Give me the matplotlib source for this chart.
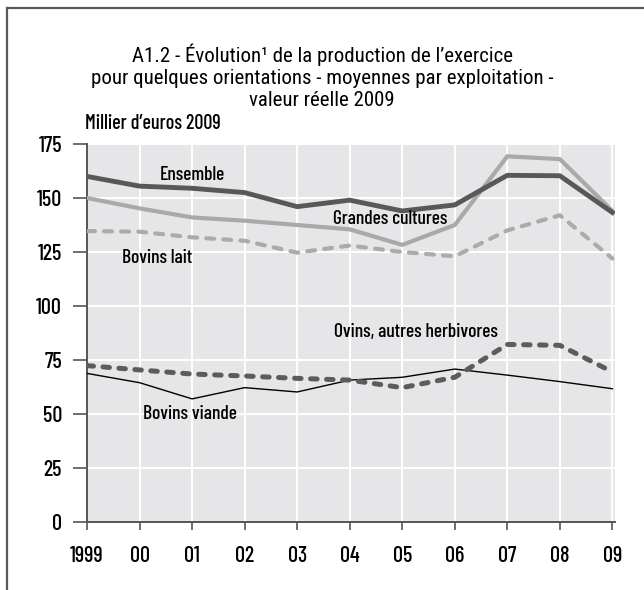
import matplotlib
matplotlib.use("Agg")
import matplotlib.pyplot as plt
from matplotlib.lines import Line2D

years = [1999, 2000, 2001, 2002, 2003, 2004, 2005, 2006, 2007, 2008, 2009]
year_labels = ['1999', '00', '01', '02', '03', '04', '05', '06', '07', '08', '09']

ensemble = [160, 155.5, 154.5, 152.5, 146, 149, 144, 146.8, 160.5, 160.3, 143.3]
grandes_cultures = [150, 145.2, 141, 139.5, 137.5, 135.5, 128.3, 137.5, 169.3, 168, 144]
bovins_lait = [134.7, 134.4, 131.8, 130.2, 124.7, 128, 125, 123, 135, 142, 122]
ovins = [72.4, 70.4, 68.5, 67.6, 66.5, 65.7, 62.2, 67, 82.2, 81.8, 69.5]
bovins_viande = [68.8, 64.5, 57, 62.2, 60.2, 65.7, 67, 70.8, 68, 65, 61.7]

y_ticks = [0, 25, 50, 75, 100, 125, 150, 175]

title_lines = ['A1.2 - Évolution¹ de la production de l’exercice',
               'pour quelques orientations - moyennes par exploitation -',
               'valeur réelle 2009']

narrow = ['Barlow Condensed', 'DejaVu Sans']
title_font = ['Roboto Condensed', 'Liberation Sans', 'DejaVu Sans']

W, H = 644, 590
fig = plt.figure(figsize=(6.44, 5.9), dpi=100)
ax = fig.add_axes([87 / W, 1 - 522 / H, (615 - 87) / W, (522 - 144) / H])

# frame: top and left edges only, running off the picture
fig.lines.append(Line2D([7 / W, 1.0], [1 - 8 / H, 1 - 8 / H], transform=fig.transFigure,
                        color='#5a5a5a', linewidth=1.6))
fig.lines.append(Line2D([7 / W, 7 / W], [0.0, 1 - 8 / H], transform=fig.transFigure,
                        color='#5a5a5a', linewidth=1.6))

ax.set_facecolor('#e6e6e8')
ax.plot(years, bovins_viande, color='black', linewidth=1.0, zorder=3)
ax.plot(years, ovins, color='#5c5c5c', linewidth=3.6, linestyle=(0, (1.3, 1.9)),
        dash_capstyle='round', zorder=3)
ax.plot(years, bovins_lait, color='#ababab', linewidth=3.0, linestyle=(0, (1.9, 2.2)),
        dash_capstyle='round', zorder=3)
ax.plot(years, grandes_cultures, color='#a9a9a9', linewidth=3.0, zorder=3)
ax.plot(years, ensemble, color='#585858', linewidth=3.5, zorder=4)

ax.set_xlim(1999, 2009.05)
ax.set_ylim(0, 175)
ax.set_xticks(years)
ax.set_xticklabels(year_labels, family=narrow, fontsize=16, fontweight='medium')
ax.set_yticks(y_ticks)
ax.set_yticklabels([str(v) for v in y_ticks], family=narrow, fontsize=16,
                   fontweight='medium')
ax.grid(True, color='white', linewidth=1.4, zorder=1)
ax.set_axisbelow(True)

for side in ['top', 'right']:
    ax.spines[side].set_visible(False)
for side in ['left', 'bottom']:
    ax.spines[side].set_color('#555555')
    ax.spines[side].set_linewidth(1.4)
ax.tick_params(axis='y', length=10, width=1.2, color='#555555', pad=8)
ax.tick_params(axis='x', length=6, width=1.2, color='#555555', pad=11)

lab = dict(family=narrow, fontsize=14, fontweight='medium', ha='center', va='center',
           zorder=5)
ax.text(2001.0, 160.6, 'Ensemble', **lab)
ax.text(2004.77, 140.1, 'Grandes cultures', **lab)
ax.text(2000.34, 122.4, 'Bovins lait', **lab)
ax.text(2005.27, 87.8, 'Ovins, autres herbivores', **lab)
ax.text(2000.96, 49.9, 'Bovins viande', **lab)

fig.text(85 / W, 1 - 129 / H, 'Millier d’euros 2009', family=narrow, fontsize=14.5,
         fontweight='medium', ha='left', va='baseline')

for line, base in zip(title_lines, [62, 84, 106]):
    fig.text(322 / W, 1 - base / H, line, family=title_font, fontsize=15,
             ha='center', va='baseline')

fig.savefig('out.png', dpi=100)
